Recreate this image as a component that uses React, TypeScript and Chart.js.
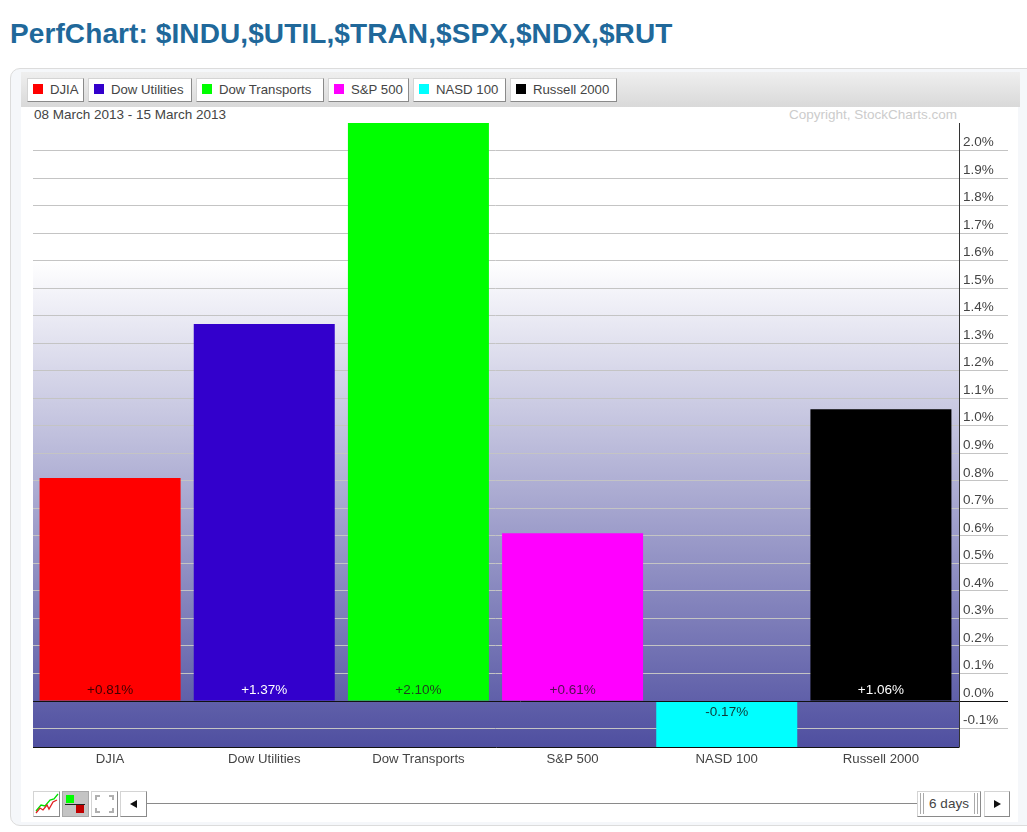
import React, { useEffect, useRef } from "react";
import { Chart, registerables } from "chart.js";

Chart.register(...registerables);

const categories = ["DJIA", "Dow Utilities", "Dow Transports", "S&P 500", "NASD 100", "Russell 2000"];
const changes = [0.81, 1.37, 2.1, 0.61, -0.17, 1.06];
const barColors = ["#ff0000", "#3300cc", "#00ff00", "#ff00ff", "#00ffff", "#000000"];
const labelColors = ["#400000", "#ffffff", "#204020", "#501050", "#103838", "#ffffff"];
const tickValues = [-0.1, 0, 0.1, 0.2, 0.3, 0.4, 0.5, 0.6, 0.7, 0.8, 0.9, 1.0, 1.1, 1.2, 1.3, 1.4, 1.5, 1.6, 1.7, 1.8, 1.9, 2.0];
const yMin = -0.167;
const yMax = 2.1;
const dateRange = "08 March 2013 - 15 March 2013";
const copyright = "Copyright, StockCharts.com";
const title = "PerfChart: $INDU,$UTIL,$TRAN,$SPX,$NDX,$RUT";

const FONT = '"Liberation Sans", Arial, sans-serif';
const TEXT_SIZE = 13.5;

const legendButtons = [
  { left: 27, width: 57 },
  { left: 88, width: 104 },
  { left: 196, width: 128 },
  { left: 328, width: 81 },
  { left: 413, width: 93 },
  { left: 510, width: 107 },
];

const fmt = (v: number) => (v >= 0 ? "+" : "") + v.toFixed(2) + "%";

const chromePlugin = {
  id: "chrome",
  beforeDraw(chart: any) {
    const { ctx, chartArea: a } = chart;
    const y = chart.scales.y;
    const g = ctx.createLinearGradient(0, a.top, 0, a.bottom);
    const whiteStop = (y.getPixelForValue(1.6) - a.top) / (a.bottom - a.top);
    g.addColorStop(0, "#ffffff");
    g.addColorStop(whiteStop, "#ffffff");
    g.addColorStop(1, "#4f4fa0");
    ctx.save();
    ctx.fillStyle = g;
    ctx.fillRect(a.left, a.top, a.right - a.left + 1.5, a.bottom - a.top);
    ctx.restore();
  },
  afterDatasetsDraw(chart: any) {
    const { ctx, chartArea: a } = chart;
    const y = chart.scales.y;
    const zero = Math.round(y.getPixelForValue(0)) + 0.5;
    const axisX = Math.round(a.right) + 1.5;
    ctx.save();
    ctx.lineWidth = 1;
    ctx.strokeStyle = "#111111";
    ctx.beginPath();
    ctx.moveTo(a.left, zero);
    ctx.lineTo(1008, zero);
    ctx.moveTo(a.left, a.bottom + 0.5);
    ctx.lineTo(axisX, a.bottom + 0.5);
    ctx.stroke();
    ctx.strokeStyle = "#333333";
    ctx.beginPath();
    ctx.moveTo(axisX, a.top);
    ctx.lineTo(axisX, a.bottom);
    ctx.stroke();
    const meta = chart.getDatasetMeta(0);
    ctx.font = `${TEXT_SIZE}px ${FONT}`;
    ctx.textAlign = "center";
    ctx.textBaseline = "middle";
    meta.data.forEach((bar: any, i: number) => {
      const v = changes[i];
      ctx.fillStyle = labelColors[i];
      const py = v >= 0 ? zero - 11 : zero + 11;
      ctx.fillText(fmt(v), bar.x, py);
    });
    ctx.restore();
  },
};

const btn: React.CSSProperties = {
  position: "absolute",
  boxSizing: "border-box",
  background: "#ffffff",
  border: "1px solid #d4d4d4",
  borderRightColor: "#8a8a8a",
  borderBottomColor: "#8a8a8a",
};

export default function App() {
  const ref = useRef<HTMLCanvasElement>(null);

  useEffect(() => {
    const chart = new Chart(ref.current as HTMLCanvasElement, {
      type: "bar",
      data: {
        labels: categories,
        datasets: [
          {
            data: changes,
            backgroundColor: barColors,
            barPercentage: 0.9146,
            categoryPercentage: 1,
          },
        ],
      },
      plugins: [chromePlugin],
      options: {
        animation: false,
        responsive: false,
        events: [],
        layout: { padding: { left: 33, top: 123, right: 0, bottom: 25 } },
        plugins: { legend: { display: false }, tooltip: { enabled: false }, title: { display: false } },
        scales: {
          x: {
            grid: { display: false },
            border: { display: false },
            ticks: { color: "#444444", font: { family: FONT, size: 13.2 }, padding: -4, maxRotation: 0, autoSkip: false },
            afterFit(s: any) {
              s.height = 60;
            },
          },
          y: {
            position: "right",
            min: yMin,
            max: yMax,
            afterBuildTicks(s: any) {
              s.ticks = tickValues.map((value) => ({ value }));
            },
            afterFit(s: any) {
              s.width = 69;
            },
            border: { display: false },
            grid: {
              color: "#c4c4c4",
              tickColor: "#c4c4c4",
              tickLength: 50,
              lineWidth: 1,
            },
            ticks: {
              color: "#444444",
              font: { family: FONT, size: TEXT_SIZE },
              padding: -45,
              labelOffset: -8,
              autoSkip: false,
              callback: (v: any) => Number(v).toFixed(1) + "%",
            },
          },
        },
      },
    } as any);
    return () => chart.destroy();
  }, []);

  return (
    <div style={{ position: "absolute", left: 0, top: 0, width: 1027, height: 832, overflow: "hidden", background: "#fff", fontFamily: FONT, color: "#444" }}>
      <div style={{ position: "absolute", left: 10, top: 19, fontSize: 28, letterSpacing: 0.1, fontWeight: "bold", color: "#20689a", lineHeight: "30px", whiteSpace: "nowrap" }}>{title}</div>

      <div style={{ position: "absolute", left: 10, top: 68, width: 1040, height: 758, boxSizing: "border-box", border: "1px solid #dcdcdc", borderRadius: 10, background: "#f5f7fa" }} />
      <div style={{ position: "absolute", left: 21, top: 72, width: 997, height: 750, background: "#ffffff" }} />
      <div style={{ position: "absolute", left: 21, top: 72, width: 999, height: 35, background: "linear-gradient(#efefef,#d9d9d9)" }} />

      {legendButtons.map((b, i) => (
        <div key={i} style={{ ...btn, left: b.left, top: 78, width: b.width, height: 24 }}>
          <div style={{ position: "absolute", left: 5, top: 5, width: 10, height: 10, background: barColors[i] }} />
          <div style={{ position: "absolute", left: 22, top: 0, lineHeight: "21px", fontSize: 13.2, whiteSpace: "nowrap" }}>{categories[i]}</div>
        </div>
      ))}

      <div style={{ position: "absolute", left: 34, top: 107, lineHeight: "16px", fontSize: TEXT_SIZE, whiteSpace: "nowrap" }}>{dateRange}</div>
      <div style={{ position: "absolute", left: 789, top: 107, lineHeight: "16px", fontSize: TEXT_SIZE, color: "#cccccc", whiteSpace: "nowrap" }}>{copyright}</div>

      <canvas ref={ref} width={1027} height={832} style={{ position: "absolute", left: 0, top: 0, width: 1027, height: 832 }} />

      <div style={{ ...btn, left: 33, top: 791, width: 27, height: 26 }}>
        <svg width="25" height="24" style={{ position: "absolute", left: 0, top: 0 }}>
          <polyline points="2,19 7,13 11,14 16,8 20,7 24,2" fill="none" stroke="#00e000" strokeWidth="1.3" />
          <polyline points="2,21 6,16 9,18 13,13 15,17 19,10 23,8" fill="none" stroke="#e02020" strokeWidth="1.3" />
        </svg>
      </div>
      <div style={{ ...btn, left: 62, top: 791, width: 27, height: 26, background: "#c4c4c4", borderColor: "#a8a8a8" }}>
        <div style={{ position: "absolute", left: 3, top: 3, width: 8, height: 8, background: "#00ff00" }} />
        <div style={{ position: "absolute", left: 2, top: 12, width: 20, height: 1, background: "#222" }} />
        <div style={{ position: "absolute", left: 13, top: 13, width: 8, height: 8, background: "#c00000" }} />
      </div>
      <div style={{ ...btn, left: 91, top: 791, width: 27, height: 26 }}>
        <svg width="25" height="24" style={{ position: "absolute", left: 0, top: 0 }}>
          <path d="M4,8 V4 H8 M17,4 H21 V8 M21,16 V20 H17 M8,20 H4 V16" fill="none" stroke="#b0b0b0" strokeWidth="2" />
        </svg>
      </div>
      <div style={{ ...btn, left: 120, top: 791, width: 27, height: 26 }}>
        <svg width="25" height="24" style={{ position: "absolute", left: 0, top: 0 }}>
          <path d="M9,12 L16,8 V16 Z" fill="#111" />
        </svg>
      </div>
      <div style={{ position: "absolute", left: 147, top: 803, width: 771, height: 1, background: "#8a8a8a" }} />
      <div style={{ ...btn, left: 917, top: 791, width: 64, height: 26, textAlign: "center", lineHeight: "23px", fontSize: TEXT_SIZE }}>
        <div style={{ position: "absolute", left: 2, top: 1, width: 2, height: 21, borderLeft: "1px solid #aaa", borderRight: "1px solid #aaa" }} />
        6 days
        <div style={{ position: "absolute", right: 2, top: 1, width: 2, height: 21, borderLeft: "1px solid #aaa", borderRight: "1px solid #aaa" }} />
      </div>
      <div style={{ ...btn, left: 984, top: 791, width: 26, height: 26 }}>
        <svg width="24" height="24" style={{ position: "absolute", left: 0, top: 0 }}>
          <path d="M16,12 L9,8 V16 Z" fill="#111" />
        </svg>
      </div>
    </div>
  );
}
